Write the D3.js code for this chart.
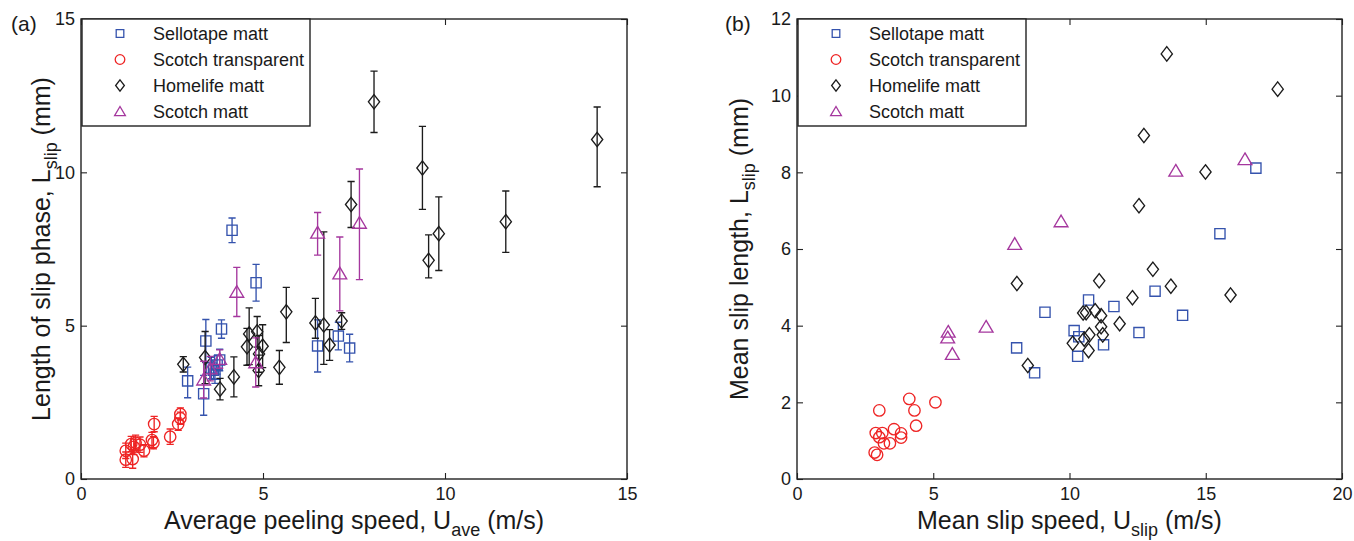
<!DOCTYPE html>
<html>
<head>
<meta charset="utf-8">
<script src="https://cdn.jsdelivr.net/npm/d3@7"></script>
<style>
  body { margin: 0; background: #fff; }
  text { font-family: "Liberation Sans", Arial, Helvetica, sans-serif; fill: #1a1a1a; }
</style>
</head>
<body>
<svg id="fig" width="1354" height="541"></svg>
<script>
// ---------- series names / legend ----------
const seriesNames = ["Sellotape matt", "Scotch transparent", "Homelife matt", "Scotch matt"];

// ---------- panel (a): average peeling speed vs slip-phase length (with error bars) ----------
// Sellotape matt
const selloA_U   = [4.15, 4.81, 3.86, 3.43, 3.81, 3.64, 3.68, 3.74, 2.93, 3.37, 6.50, 7.07, 7.38, 3.58];
const selloA_L   = [8.11, 6.40, 4.89, 4.50, 3.88, 3.55, 3.42, 3.72, 3.20, 2.78, 4.34, 4.66, 4.27, 3.62];
const selloA_lo  = [0.40, 0.60, 0.30, 0.70, 0.35, 0.30, 0.30, 0.30, 0.55, 0.70, 0.85, 0.45, 0.45, 0.35];
const selloA_hi  = [0.40, 0.60, 0.30, 0.70, 0.35, 0.30, 0.30, 0.30, 0.45, 0.60, 0.85, 0.45, 0.45, 0.35];
// Scotch transparent
const scTrA_U  = [1.23, 1.23, 1.42, 1.38, 1.50, 1.62, 1.45, 1.73, 1.95, 1.99, 2.01, 2.45, 2.67, 2.73, 2.73];
const scTrA_L  = [0.63, 0.92, 0.65, 1.14, 1.18, 1.12, 1.05, 0.92, 1.27, 1.18, 1.79, 1.38, 1.79, 2.12, 1.98];
const scTrA_lo = [0.25, 0.25, 0.30, 0.25, 0.25, 0.25, 0.25, 0.20, 0.25, 0.20, 0.25, 0.25, 0.20, 0.20, 0.20];
const scTrA_hi = [0.25, 0.25, 0.30, 0.25, 0.25, 0.25, 0.25, 0.20, 0.25, 0.20, 0.25, 0.25, 0.20, 0.20, 0.20];
// Homelife matt
const homeA_U  = [2.81, 3.41, 3.82, 4.20, 4.56, 4.62, 4.84, 4.89, 4.88, 4.99, 5.45, 5.64, 6.44, 6.67, 6.83, 7.16, 7.42, 8.05, 9.38, 9.55, 9.83, 11.67, 14.18];
const homeA_L  = [3.74, 3.96, 2.93, 3.33, 4.31, 4.73, 4.80, 4.08, 3.54, 4.33, 3.64, 5.45, 5.09, 5.02, 4.37, 5.15, 8.95, 12.30, 10.14, 7.13, 8.00, 8.39, 11.07];
const homeA_lo = [0.25, 0.85, 0.35, 0.65, 0.60, 1.00, 0.50, 0.60, 0.50, 0.70, 0.55, 1.00, 0.50, 1.28, 0.50, 0.27, 0.75, 1.00, 1.35, 0.57, 1.20, 1.00, 1.54];
const homeA_hi = [0.25, 0.85, 0.35, 0.65, 0.60, 0.85, 0.50, 0.60, 0.50, 0.70, 0.55, 0.80, 0.80, 3.04, 0.50, 0.27, 0.75, 1.00, 1.36, 0.83, 1.20, 1.00, 1.06];
// Scotch matt
const scMtA_U  = [3.37, 3.55, 3.81, 4.28, 4.80, 6.50, 7.11, 7.65];
const scMtA_L  = [3.24, 3.60, 3.91, 6.10, 3.80, 8.03, 6.70, 8.35];
const scMtA_lo = [0.60, 0.40, 0.30, 0.80, 0.80, 0.73, 1.22, 1.85];
const scMtA_hi = [0.60, 0.40, 0.30, 0.80, 0.80, 0.66, 1.19, 1.76];

// ---------- panel (b): mean slip speed vs mean slip length ----------
const selloB_U = [16.84, 15.52, 13.14, 10.70, 11.63, 9.10, 14.15, 10.17, 12.55, 10.34, 11.25, 8.06, 10.30, 8.72];
const selloB_L = [8.11, 6.40, 4.90, 4.67, 4.50, 4.35, 4.27, 3.87, 3.82, 3.71, 3.50, 3.42, 3.20, 2.77];
const scTrB_U  = [3.02, 4.12, 4.31, 5.08, 4.37, 2.89, 3.13, 3.56, 3.82, 3.82, 3.02, 3.19, 3.41, 2.85, 2.94];
const scTrB_L  = [1.79, 2.09, 1.79, 2.00, 1.39, 1.20, 1.20, 1.30, 1.19, 1.08, 1.09, 0.93, 0.93, 0.69, 0.63];
const homeB_U  = [13.57, 17.64, 12.73, 14.99, 12.55, 13.06, 11.09, 8.07, 13.72, 15.91, 12.31, 10.94, 10.61, 10.50, 11.16, 11.84, 11.16, 11.22, 10.73, 10.54, 10.12, 10.70, 8.47];
const homeB_L  = [11.09, 10.17, 8.96, 8.01, 7.13, 5.47, 5.17, 5.10, 5.03, 4.80, 4.73, 4.39, 4.34, 4.33, 4.26, 4.05, 3.97, 3.76, 3.76, 3.65, 3.54, 3.35, 2.96];
const scMtB_U  = [5.55, 5.53, 5.70, 6.94, 7.99, 9.69, 13.90, 16.44];
const scMtB_L  = [3.84, 3.69, 3.26, 3.97, 6.13, 6.72, 8.04, 8.34];

// ---------- axis ticks ----------
const ticksAx = [0, 5, 10, 15];
const ticksAy = [0, 5, 10, 15];
const ticksBx = [0, 5, 10, 15, 20];
const ticksBy = [0, 2, 4, 6, 8, 10, 12];

// ---------- marker shapes (custom d3.symbol types, size = half-extent in px) ----------
const shapeSquare = { draw(c, r) { c.rect(-r, -r, 2 * r, 2 * r); } };
const shapeCircle = { draw(c, r) { c.moveTo(r, 0); c.arc(0, 0, r, 0, 2 * Math.PI); } };
const shapeDiamond = { draw(c, r) { const w = r * 0.78; c.moveTo(0, -r); c.lineTo(w, 0); c.lineTo(0, r); c.lineTo(-w, 0); c.closePath(); } };
const shapeTriangle = { draw(c, r) { c.moveTo(0, -0.92 * r); c.lineTo(r, 0.77 * r); c.lineTo(-r, 0.77 * r); c.closePath(); } };

const styles = [
  { shape: shapeSquare,   size: 5.1, legendSize: 3.8, color: "#3553ad" },
  { shape: shapeCircle,   size: 5.7, legendSize: 4.8, color: "#ee2424" },
  { shape: shapeDiamond,  size: 7.2, legendSize: 5.6, color: "#1c1c1c" },
  { shape: shapeTriangle, size: 6.9, legendSize: 5.4, color: "#a5379e" }
];

const svg = d3.select("#fig");
const FONT_TICK = 18, FONT_LEG = 18, FONT_TITLE = 25;

function zip(U, L, lo, hi) {
  return U.map((u, i) => ({ u, l: L[i], lo: lo ? lo[i] : 0, hi: hi ? hi[i] : 0 }));
}

function drawPanel(cfg) {
  const x = d3.scaleLinear().domain(cfg.xDomain).range([cfg.left, cfg.right]);
  const y = d3.scaleLinear().domain(cfg.yDomain).range([cfg.bottom, cfg.top]);
  const g = svg.append("g");

  // data marks (drawn first so the frame sits on top)
  const marks = g.append("g");
  cfg.series.forEach((s, k) => {
    const st = styles[k];
    const sg = marks.append("g").attr("stroke", st.color).attr("fill", "none").attr("stroke-width", 1.35);
    if (cfg.errorBars) {
      sg.append("g").selectAll("path").data(s).join("path")
        .attr("d", d => {
          const px = x(d.u), y0 = y(d.l - d.lo), y1 = y(d.l + d.hi), cw = 3.6;
          return `M${px},${y0}V${y1}M${px - cw},${y0}H${px + cw}M${px - cw},${y1}H${px + cw}`;
        });
    }
    const sym = d3.symbol().type(st.shape).size(st.size);
    sg.selectAll(".pt").data(s).join("path")
      .attr("class", "pt")
      .attr("transform", d => `translate(${x(d.u)},${y(d.l)})`)
      .attr("d", sym);
  });

  // axes with inward ticks on all four sides
  const tk = -6;
  const axB = g.append("g").attr("transform", `translate(0,${cfg.bottom})`)
    .call(d3.axisBottom(x).tickValues(cfg.xTicks).tickSizeInner(tk).tickSizeOuter(0).tickPadding(8));
  const axT = g.append("g").attr("transform", `translate(0,${cfg.top})`)
    .call(d3.axisTop(x).tickValues(cfg.xTicks).tickSizeInner(tk).tickSizeOuter(0).tickFormat(""));
  const axL = g.append("g").attr("transform", `translate(${cfg.left},0)`)
    .call(d3.axisLeft(y).tickValues(cfg.yTicks).tickSizeInner(tk).tickSizeOuter(0).tickPadding(6));
  const axR = g.append("g").attr("transform", `translate(${cfg.right},0)`)
    .call(d3.axisRight(y).tickValues(cfg.yTicks).tickSizeInner(tk).tickSizeOuter(0).tickFormat(""));
  [axB, axT, axL, axR].forEach(a => {
    a.select(".domain").remove();
    a.selectAll("line").attr("stroke", "#222").attr("stroke-width", 1.1);
    a.selectAll("text").attr("font-size", FONT_TICK).attr("font-family", null).attr("fill", "#1a1a1a");
  });

  // frame
  g.append("rect")
    .attr("x", cfg.left).attr("y", cfg.top)
    .attr("width", cfg.right - cfg.left).attr("height", cfg.bottom - cfg.top)
    .attr("fill", "none").attr("stroke", "#222").attr("stroke-width", 1.4);

  // legend
  const lg = g.append("g");
  lg.append("rect")
    .attr("x", cfg.left + 1).attr("y", cfg.top)
    .attr("width", cfg.legendW).attr("height", 107)
    .attr("fill", "#fff").attr("stroke", "#222").attr("stroke-width", 1.4);
  seriesNames.forEach((name, k) => {
    const st = styles[k];
    const cy = cfg.top + 14.5 + k * 26;
    lg.append("path")
      .attr("transform", `translate(${cfg.left + cfg.legendMarkX},${cy})`)
      .attr("d", d3.symbol().type(st.shape).size(st.legendSize)())
      .attr("fill", "none").attr("stroke", st.color).attr("stroke-width", 1.3);
    lg.append("text")
      .attr("x", cfg.left + cfg.legendTextX).attr("y", cy).attr("dy", "0.36em")
      .attr("font-size", FONT_LEG).text(name);
  });

  // panel letter
  g.append("text").attr("x", cfg.letterX).attr("y", 31).attr("font-size", 21).text(cfg.letter);

  // x title with subscript
  const xt = g.append("text")
    .attr("x", (cfg.left + cfg.right) / 2).attr("y", 529)
    .attr("text-anchor", "middle").attr("font-size", FONT_TITLE);
  xt.append("tspan").text(cfg.xTitle[0]);
  xt.append("tspan").attr("font-size", 18).attr("dy", 7).text(cfg.xTitle[1]);
  xt.append("tspan").attr("dy", -7).text(cfg.xTitle[2]);

  // y title with subscript
  const yt = g.append("text")
    .attr("transform", `translate(${cfg.yTitleX},${(cfg.top + cfg.bottom) / 2}) rotate(-90)`)
    .attr("text-anchor", "middle").attr("font-size", FONT_TITLE);
  yt.append("tspan").text(cfg.yTitle[0]);
  yt.append("tspan").attr("font-size", 18).attr("dy", 7).text(cfg.yTitle[1]);
  yt.append("tspan").attr("dy", -7).text(cfg.yTitle[2]);
}

drawPanel({
  letter: "(a)", letterX: 11,
  left: 81, right: 627, top: 19, bottom: 479,
  xDomain: [0, 15], yDomain: [0, 15], xTicks: ticksAx, yTicks: ticksAy,
  errorBars: true,
  series: [
    zip(selloA_U, selloA_L, selloA_lo, selloA_hi),
    zip(scTrA_U, scTrA_L, scTrA_lo, scTrA_hi),
    zip(homeA_U, homeA_L, homeA_lo, homeA_hi),
    zip(scMtA_U, scMtA_L, scMtA_lo, scMtA_hi)
  ],
  legendW: 228, legendMarkX: 39, legendTextX: 72,
  xTitle: ["Average peeling speed, U", "ave", " (m/s)"],
  yTitle: ["Length of slip phase, L", "slip", " (mm)"], yTitleX: 50
});

drawPanel({
  letter: "(b)", letterX: 725,
  left: 797, right: 1342, top: 19, bottom: 479,
  xDomain: [0, 20], yDomain: [0, 12], xTicks: ticksBx, yTicks: ticksBy,
  errorBars: false,
  series: [
    zip(selloB_U, selloB_L),
    zip(scTrB_U, scTrB_L),
    zip(homeB_U, homeB_L),
    zip(scMtB_U, scMtB_L)
  ],
  legendW: 228, legendMarkX: 39, legendTextX: 72,
  xTitle: ["Mean slip speed, U", "slip", " (m/s)"],
  yTitle: ["Mean slip length, L", "slip", " (mm)"], yTitleX: 748
});
</script>
</body>
</html>
